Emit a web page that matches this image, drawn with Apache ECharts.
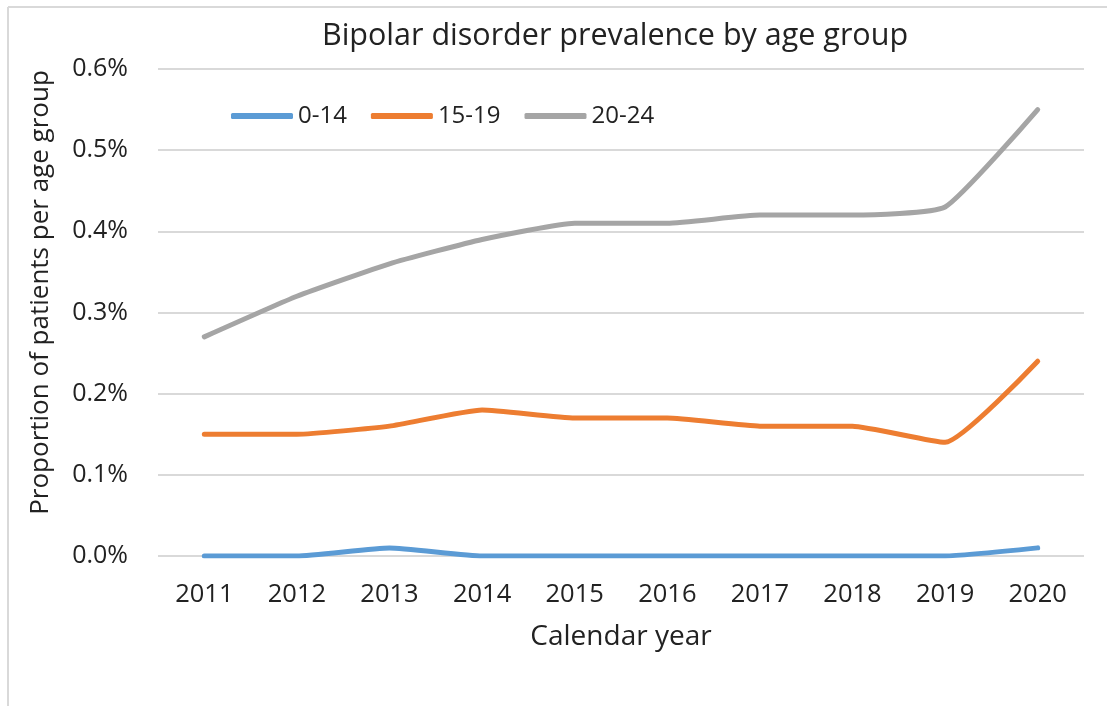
<!DOCTYPE html>
<html><head><meta charset="utf-8">
<script src="https://cdn.jsdelivr.net/npm/echarts@6/dist/echarts.min.js"></script>
<style>html,body{margin:0;padding:0;background:#fff;}#c{width:1107px;height:706px;}</style>
</head><body><div id="c"></div>
<script>
const years = ['2011','2012','2013','2014','2015','2016','2017','2018','2019','2020'];
const age0_14 = [0.00, 0.00, 0.01, 0.00, 0.00, 0.00, 0.00, 0.00, 0.00, 0.01];
const age15_19 = [0.15, 0.15, 0.16, 0.18, 0.17, 0.17, 0.16, 0.16, 0.14, 0.24];
const age20_24 = [0.27, 0.32, 0.36, 0.39, 0.41, 0.41, 0.42, 0.42, 0.43, 0.55];
const seriesNames = ['0-14', '15-19', '20-24'];
const colors = ['#5B9BD5', '#ED7D31', '#A5A5A5'];
const FONT = '"Open Sans", "Liberation Sans", sans-serif';

const chart = echarts.init(document.getElementById('c'));
const mk = (name, data, color) => ({
  name, type: 'line', data, smooth: 0.15, showSymbol: false, symbol: 'none',
  lineStyle: { color, width: 5, cap: 'round', join: 'round' }, itemStyle: { color }
});
chart.setOption({
  animation: false,
  backgroundColor: '#fff',
  color: colors,
  title: {
    text: 'Bipolar disorder prevalence by age group', left: 610, top: 16, textAlign: 'center',
    textStyle: { fontFamily: FONT, fontSize: 30.5, fontWeight: 'normal', color: '#222' }
  },
  legend: {
    left: 226, top: 99, itemWidth: 62, itemHeight: 6, itemGap: 24,
    icon: 'roundRect',
    textStyle: { fontFamily: FONT, fontSize: 24, color: '#222' },
    data: seriesNames
  },
  grid: { left: 158, right: 23, top: 69, bottom: 150, containLabel: false },
  xAxis: {
    type: 'category', data: years, boundaryGap: true,
    name: 'Calendar year', nameLocation: 'middle', nameGap: 67,
    nameTextStyle: { fontFamily: FONT, fontSize: 28, color: '#222' },
    axisLine: { show: false }, axisTick: { show: false },
    axisLabel: { fontFamily: FONT, fontSize: 25.5, color: '#222', margin: 26 }
  },
  yAxis: {
    type: 'value', min: 0, max: 0.6, interval: 0.1,
    name: 'Proportion of patients per age group', nameLocation: 'middle', nameGap: 104,
    nameTextStyle: { fontFamily: FONT, fontSize: 26, color: '#222', padding: [0, 0, 0, 40] },
    axisLine: { show: false }, axisTick: { show: false },
    axisLabel: { fontFamily: FONT, fontSize: 25, color: '#222', margin: 30,
      formatter: v => v.toFixed(1) + '%' },
    splitLine: { lineStyle: { color: '#d9d9d9', width: 2 } }
  },
  graphic: [
    { type: 'line', shape: { x1: 8, y1: 7, x2: 1107, y2: 7 }, style: { stroke: '#d9d9d9', lineWidth: 2 } },
    { type: 'line', shape: { x1: 8, y1: 7, x2: 8, y2: 706 }, style: { stroke: '#d9d9d9', lineWidth: 2 } }
  ],
  series: [
    mk(seriesNames[0], age0_14, colors[0]),
    mk(seriesNames[1], age15_19, colors[1]),
    mk(seriesNames[2], age20_24, colors[2])
  ]
});
</script></body></html>
